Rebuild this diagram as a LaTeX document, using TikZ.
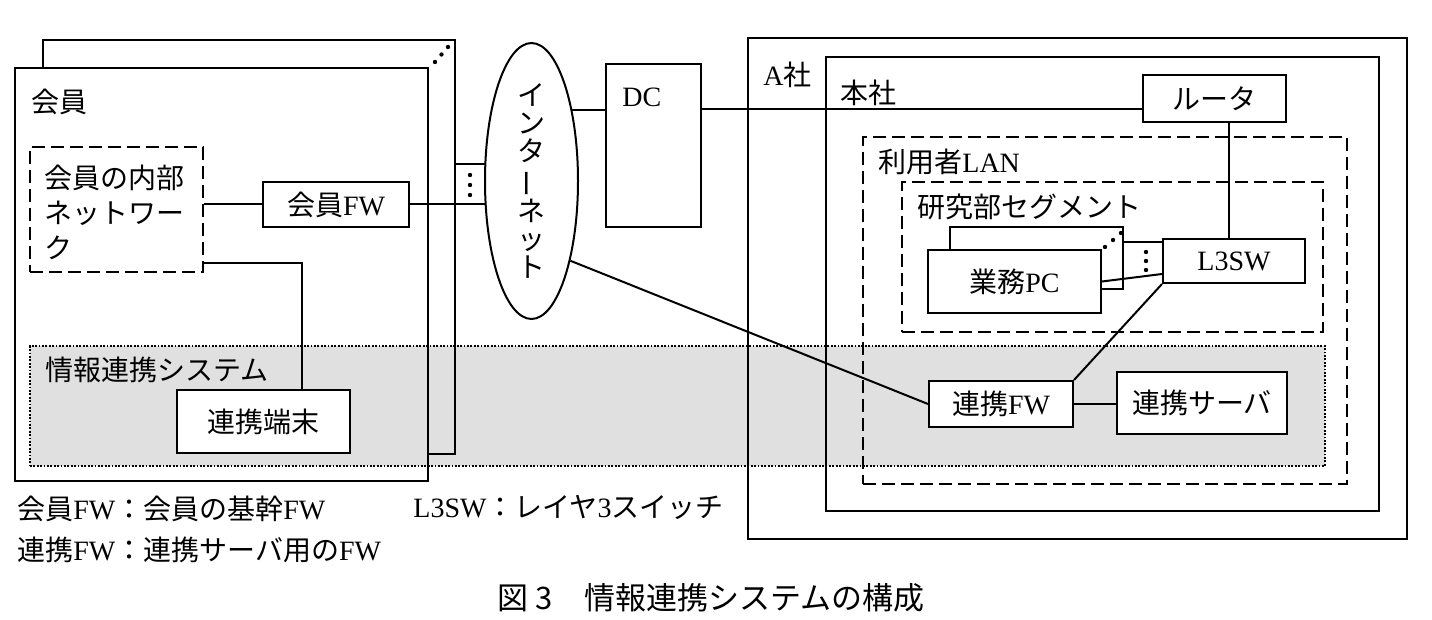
\documentclass[tikz,border=0pt]{standalone}
\usepackage{fontspec}
\usepackage{graphicx}
\setmainfont{Liberation Serif}
\newfontfamily\jp{Noto Sans CJK JP}
\usetikzlibrary{fit,calc,shapes.geometric}
\pgfdeclarelayer{bg}
\pgfdeclarelayer{lines}
\pgfsetlayers{bg,lines,main}
\newcommand\J[1]{{\jp #1}}
\newcommand\dfont{\fontsize{14pt}{17pt}\selectfont}
\tikzset{
  frame/.style={draw, line width=1pt, inner sep=0pt},
  wbox/.style={frame, fill=white},
  dbox/.style={draw, line width=1.2pt, dash pattern=on 6.5pt off 3pt, inner sep=0pt},
  sysbox/.style={draw, fill=black!12, line width=0.8pt, dash pattern=on 0.9pt off 0.8pt, inner sep=0pt},
  conn/.style={line width=1pt},
  lbl/.style={anchor=west, inner sep=0pt},
}
\begin{document}
\begin{tikzpicture}[x=0.5pt,y=-0.5pt, every node/.style={font=\dfont}]
\useasboundingbox (0,0) rectangle (1432,620);

% information system band
\begin{pgfonlayer}{bg}
\node[sysbox, fit={(30,346)(1325,466)}] (sys) {};
\end{pgfonlayer}
\node[lbl] (syslbl) at (45,370) {\J{情報連携システム}};

% member (stacked)
\draw[conn] (43,68) -- (43,40) -- (455,40) -- (455,454) -- (428,454);
\node[frame, fit={(15,68)(428,481)}] (mem) {};
\node[lbl] (memlbl) at (31,102) {\J{会員}};
\foreach \i in {0,1,2} \fill (435+6.5*\i,62-7.5*\i) circle (1.1pt);
\foreach \i in {0,1,2} \fill (470,175+10*\i) circle (1.1pt);

\node[dbox, fit={(30,147)(203,272)}] (inner) {};
\node[anchor=west, align=left, inner sep=0pt, font=\fontsize{14pt}{17.5pt}\selectfont\jp] (innerlbl) at (44,212) {会員の内部\\ネットワー\\ク};
\node[wbox, fit={(263,182)(409,227)}, label={center:\J{会員}FW}] (mfw) {};
\node[wbox, fit={(177,390)(350,453)}, label={center:\J{連携端末}}] (term) {};

% internet
\node[draw, ellipse, fill=white, line width=1pt, minimum width=46.5pt, minimum height=114pt, inner sep=0pt, align=center, font=\fontsize{14pt}{14pt}\selectfont\jp] (inet) at (531.5,181) {イ\\ン\\タ\\{\rotatebox[origin=c]{90}{ー}}\\ネ\\ッ\\ト};

% DC
\node[wbox, fit={(606,64)(701,227)}] (dc) {};
\node[lbl] (dclbl) at (622,97) {DC};

% company A
\node[frame, fit={(748,38)(1407,539)}] (coa) {};
\node[lbl] (coalbl) at (763,75) {A\J{社}};
\node[frame, fit={(826,57)(1379,511)}] (hq) {};
\node[lbl] (hqlbl) at (840,93) {\J{本社}};
\node[wbox, fit={(1143,75)(1286,122)}, label={center:\J{ルータ}}] (rt) {};
\node[dbox, fit={(863,137)(1347,484)}] (lan) {};
\node[lbl] (lanlbl) at (878,162) {\J{利用者}LAN};
\node[dbox, fit={(902,182)(1323,332)}] (seg) {};
\node[lbl] (seglbl) at (917,207) {\J{研究部セグメント}};
\draw[conn] (950,250) -- (950,227) -- (1123,227) -- (1123,289) -- (1101,289);
\node[wbox, fit={(928,250)(1101,313)}, label={center:\J{業務}PC}] (pc) {};
\foreach \p in {(1105,247),(1113,240),(1121,233)} \fill \p circle (1.1pt);
\foreach \i in {0,1,2} \fill (1146,252+9*\i) circle (1.1pt);
\node[wbox, fit={(1163,239)(1305,283)}, label={center:L3SW}] (l3) {};
\node[wbox, fit={(929,381)(1073,427)}, label={center:\J{連携}FW}] (sfw) {};
\node[wbox, fit={(1117,372)(1287,434)}, label={center:\J{連携サーバ}}] (srv) {};

% connectors
\begin{pgfonlayer}{lines}
\draw[conn] (inner.east |- mfw.west) -- (mfw.west);
\draw[conn] (mfw.east) -- (mfw.east -| inet.center);
\coordinate (mb) at (455,164);
\draw[conn] (mb) -- (mb -| inet.center);
\draw[conn] ($(inner.south east)+(0,-10)$) -| ($(term.north west)+(126,0)$);
\coordinate (dcl) at ($(dc.north west)+(0,47)$);
\draw[conn] (dcl) -- (dcl -| inet.center);
\coordinate (dcr) at ($(dc.north east)+(0,46)$);
\draw[conn] (dcr) -- (dcr -| rt.west);
\draw[conn] (inet.-64) -- (sfw.west);
\draw[conn] (sfw.east) -- (sfw.east -| srv.west);
\draw[conn] (l3.south west) -- (sfw.north east);
\coordinate (rtb) at ($(rt.south)+(14.5,0)$);
\draw[conn] (rtb) -- (rtb |- l3.north);
\coordinate (pcb) at (1123,242);
\draw[conn] (pcb) -- (pcb -| l3.west);
\draw[conn] (pc.east) -- ($(l3.south west)+(0,-10)$);
\end{pgfonlayer}

% legend and caption
\node[lbl] (lg1) at (17,509) {\J{会員}FW\J{：会員の基幹}FW};
\node[lbl] (lg2) at (17,550) {\J{連携}FW\J{：連携サーバ用の}FW};
\node[lbl] (lg3) at (413,507) {L3SW\J{：レイヤ}3\J{スイッチ}};
\node[inner sep=0pt, font=\fontsize{15.5pt}{18pt}\selectfont\jp] (cap) at (711,598) {図 3\hspace{1em}情報連携システムの構成};
\end{tikzpicture}
\end{document}
